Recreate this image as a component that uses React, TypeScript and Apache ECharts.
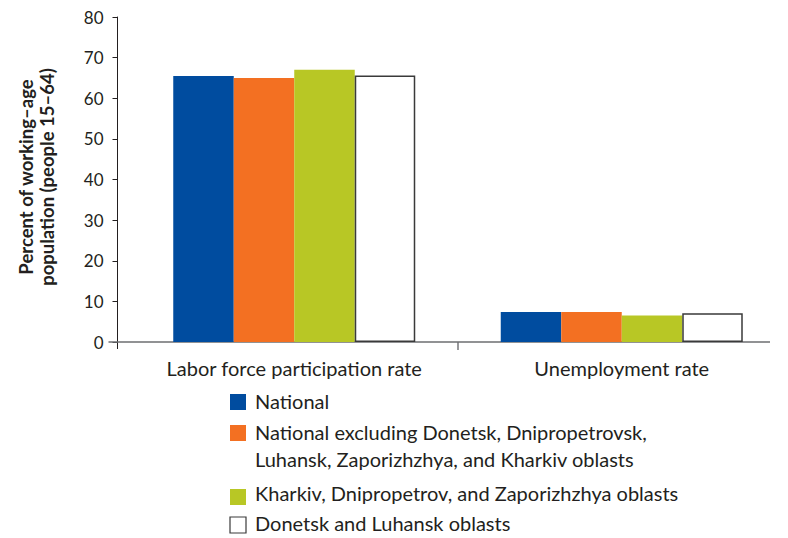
import React, { useEffect, useRef } from "react";
import * as echarts from "echarts";

const categories = ["Labor force participation rate", "Unemployment rate"];
const seriesNames = [
  "National",
  "National excluding Donetsk, Dnipropetrovsk,\nLuhansk, Zaporizhzhya, and Kharkiv oblasts",
  "Kharkiv, Dnipropetrov, and Zaporizhzhya oblasts",
  "Donetsk and Luhansk oblasts",
];
const national = [65.5, 7.4];
const nationalExcl = [65.0, 7.4];
const kharkiv = [67.0, 6.5];
const donetsk = [65.6, 7.1];
const yTicks = [0, 10, 20, 30, 40, 50, 60, 70, 80];

const seriesValues = [national, nationalExcl, kharkiv, donetsk];
const fills = ["#004c9f", "#f37022", "#b8c725", "#ffffff"];
const borders = ["#004c9f", "#f37022", "#b8c725", "#3a3a3a"];

const FONT = "Lato";
const TEXT = "#231f20";
const GRID = { left: 130.5, right: 2.5, top: 17, bottom: 196 };
const LEGEND_X = 230;
const LEGEND_TOPS = [394, 425, 489, 517];
const LEGEND_TEXT_SHIFT = [-1, -1, -4, -2];

export default function App() {
  const ref = useRef<HTMLDivElement>(null);
  useEffect(() => {
    document.body.style.margin = "0";
    if (!ref.current) return;
    const chart = echarts.init(ref.current, undefined, { renderer: "svg" });
    const option: any = {
      animation: false,
      grid: GRID,
      xAxis: {
        type: "category",
        data: categories,
        axisLine: { show: false },
        axisTick: { show: false },
        axisLabel: { color: TEXT, fontFamily: FONT, fontSize: 20, margin: 16, interval: 0 },
      },
      yAxis: {
        type: "value",
        min: yTicks[0],
        max: yTicks[yTicks.length - 1],
        interval: 10,
        offset: 13,
        splitLine: { show: false },
        axisLine: { show: true, lineStyle: { color: TEXT, width: 1 } },
        axisTick: { show: true, length: 5, lineStyle: { color: TEXT } },
        axisLabel: { color: TEXT, fontFamily: FONT, fontSize: 17, margin: 14 },
      },
      series: seriesValues.map((vals, i) => ({
        type: "bar",
        name: seriesNames[i],
        data: vals,
        barWidth: 60.5,
        barGap: "0%",
        itemStyle: {
          color: fills[i],
          borderColor: borders[i],
          borderWidth: i === 3 ? 1.5 : 0,
        },
      })),
    };
    chart.setOption(option);

    const y0 = chart.convertToPixel({ yAxisIndex: 0 }, 0) as number;
    const xMid = (GRID.left + (788 - GRID.right)) / 2;
    const yAxisX = GRID.left - 13;
    const graphics: any[] = [
      {
        type: "line",
        shape: { x1: yAxisX - 9, y1: y0, x2: 770, y2: y0 },
        style: { stroke: "#6d6e71", lineWidth: 1.4 },
        z: 1,
      },
      {
        type: "line",
        shape: { x1: yAxisX, y1: y0, x2: yAxisX, y2: y0 + 7 },
        style: { stroke: TEXT, lineWidth: 1 },
      },
      {
        type: "line",
        shape: { x1: xMid, y1: y0, x2: xMid, y2: y0 + 8 },
        style: { stroke: "#6d6e71", lineWidth: 1.4 },
      },
      {
        type: "text",
        x: 36,
        y: 177,
        rotation: Math.PI / 2,
        style: {
          text: "Percent of working–age\npopulation (people 15–64)",
          fontFamily: FONT,
          fontWeight: "bold",
          fontSize: 18.5,
          lineHeight: 21,
          fill: TEXT,
          textAlign: "center",
          textVerticalAlign: "middle",
        },
      },
    ];
    seriesNames.forEach((name, i) => {
      const top = LEGEND_TOPS[i];
      graphics.push({
        type: "rect",
        shape: { x: LEGEND_X, y: top, width: 16, height: 16 },
        style: {
          fill: fills[i],
          stroke: i === 3 ? "#3a3a3a" : fills[i],
          lineWidth: i === 3 ? 1.2 : 0,
        },
      });
      graphics.push({
        type: "text",
        x: LEGEND_X + 25,
        y: top + 8 + LEGEND_TEXT_SHIFT[i] - 13.5,
        style: {
          text: name,
          fontFamily: FONT,
          fontSize: 20,
          lineHeight: 27,
          fill: TEXT,
          textAlign: "left",
          textVerticalAlign: "top",
        },
      });
    });
    chart.setOption({ graphic: graphics });
    return () => chart.dispose();
  }, []);
  return <div ref={ref} style={{ width: 788, height: 538 }} />;
}
